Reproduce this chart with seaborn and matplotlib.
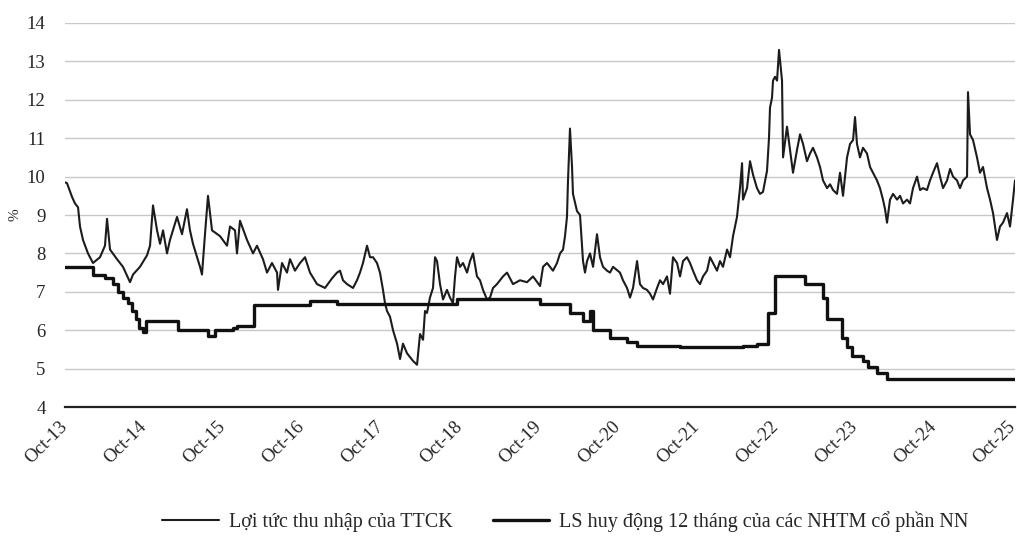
#!/usr/bin/env python3
"""Earnings yield of the stock market vs 12-month deposit rate, Oct-13 to Oct-25."""

import matplotlib
matplotlib.use("Agg")
import matplotlib.pyplot as plt
import numpy as np
import pandas as pd
import seaborn as sns

# Earnings yield of the market (thin line), x in decimal years
YIELD_T = [
    2013.750, 2013.775, 2013.839, 2013.877, 2013.915, 2013.940, 2013.978, 2014.041, 2014.104, 2014.193,
    2014.256, 2014.282, 2014.320, 2014.408, 2014.484, 2014.573, 2014.611, 2014.699, 2014.788, 2014.826,
    2014.864, 2014.915, 2014.953, 2014.991, 2015.041, 2015.079, 2015.168, 2015.231, 2015.294, 2015.332,
    2015.370, 2015.459, 2015.484, 2015.522, 2015.560, 2015.611, 2015.712, 2015.801, 2015.839, 2015.902,
    2015.927, 2015.965, 2016.054, 2016.130, 2016.180, 2016.256, 2016.307, 2016.370, 2016.434, 2016.446,
    2016.497, 2016.560, 2016.598, 2016.661, 2016.725, 2016.788, 2016.851, 2016.940, 2017.041, 2017.130,
    2017.193, 2017.231, 2017.269, 2017.320, 2017.396, 2017.446, 2017.484, 2017.522, 2017.573, 2017.611,
    2017.649, 2017.699, 2017.737, 2017.775, 2017.801, 2017.826, 2017.864, 2017.902, 2017.953, 2017.991,
    2018.028, 2018.079, 2018.117, 2018.155, 2018.206, 2018.244, 2018.282, 2018.307, 2018.332, 2018.370,
    2018.408, 2018.434, 2018.459, 2018.497, 2018.535, 2018.585, 2018.623, 2018.661, 2018.687, 2018.712,
    2018.750, 2018.788, 2018.839, 2018.877, 2018.915, 2018.965, 2019.003, 2019.041, 2019.092, 2019.130,
    2019.168, 2019.218, 2019.294, 2019.345, 2019.421, 2019.509, 2019.598, 2019.674, 2019.763, 2019.801,
    2019.851, 2019.927, 2019.978, 2020.016, 2020.054, 2020.079, 2020.104, 2020.117, 2020.142, 2020.168,
    2020.180, 2020.231, 2020.269, 2020.307, 2020.332, 2020.358, 2020.396, 2020.434, 2020.484, 2020.522,
    2020.560, 2020.611, 2020.649, 2020.687, 2020.775, 2020.813, 2020.864, 2020.902, 2020.940, 2020.991,
    2021.028, 2021.066, 2021.117, 2021.155, 2021.193, 2021.244, 2021.282, 2021.320, 2021.370, 2021.408,
    2021.446, 2021.497, 2021.535, 2021.573, 2021.623, 2021.661, 2021.699, 2021.750, 2021.788, 2021.826,
    2021.877, 2021.915, 2021.953, 2022.003, 2022.041, 2022.079, 2022.130, 2022.168, 2022.206, 2022.256,
    2022.294, 2022.320, 2022.332, 2022.383, 2022.421, 2022.459, 2022.509, 2022.547, 2022.585, 2022.636,
    2022.661, 2022.674, 2022.699, 2022.712, 2022.737, 2022.763, 2022.788, 2022.826, 2022.839, 2022.889,
    2022.927, 2022.965, 2023.016, 2023.054, 2023.092, 2023.142, 2023.180, 2023.218, 2023.269, 2023.307,
    2023.345, 2023.396, 2023.434, 2023.472, 2023.522, 2023.560, 2023.598, 2023.649, 2023.687, 2023.725,
    2023.750, 2023.775, 2023.813, 2023.851, 2023.902, 2023.940, 2023.978, 2024.028, 2024.066, 2024.104,
    2024.130, 2024.155, 2024.193, 2024.231, 2024.282, 2024.320, 2024.358, 2024.408, 2024.446, 2024.484,
    2024.535, 2024.573, 2024.611, 2024.661, 2024.699, 2024.737, 2024.788, 2024.826, 2024.864, 2024.915,
    2024.953, 2024.991, 2025.041, 2025.079, 2025.117, 2025.168, 2025.180, 2025.206, 2025.244, 2025.294,
    2025.332, 2025.370, 2025.421, 2025.459, 2025.497, 2025.547, 2025.585, 2025.623, 2025.674, 2025.712,
    2025.750, 2025.775,
]
YIELD_V = [
    9.85, 9.83, 9.47, 9.30, 9.20, 8.70, 8.35, 8.00, 7.75, 7.90,
    8.20, 8.90, 8.10, 7.85, 7.65, 7.25, 7.45, 7.65, 7.95, 8.20,
    9.25, 8.60, 8.25, 8.60, 8.00, 8.35, 8.95, 8.50, 9.15, 8.60,
    8.25, 7.65, 7.45, 8.50, 9.50, 8.60, 8.45, 8.20, 8.70, 8.60,
    8.00, 8.85, 8.35, 8.00, 8.20, 7.85, 7.50, 7.75, 7.50, 7.05,
    7.75, 7.50, 7.85, 7.55, 7.75, 7.90, 7.50, 7.20, 7.10, 7.35,
    7.50, 7.55, 7.30, 7.20, 7.10, 7.30, 7.50, 7.75, 8.20, 7.90,
    7.90, 7.75, 7.50, 7.05, 6.70, 6.50, 6.35, 6.00, 5.65, 5.25,
    5.65, 5.40, 5.30, 5.20, 5.10, 5.90, 5.75, 6.50, 6.45, 6.85,
    7.10, 7.90, 7.80, 7.20, 6.80, 7.05, 6.85, 6.70, 7.40, 7.90,
    7.65, 7.75, 7.50, 7.80, 8.00, 7.40, 7.30, 7.05, 6.80, 6.85,
    7.10, 7.20, 7.40, 7.50, 7.20, 7.30, 7.25, 7.40, 7.15, 7.65,
    7.75, 7.55, 7.75, 8.00, 8.10, 8.45, 8.95, 9.90, 11.25, 10.25,
    9.55, 9.10, 9.00, 7.80, 7.50, 7.80, 8.00, 7.65, 8.50, 7.90,
    7.65, 7.55, 7.50, 7.65, 7.50, 7.30, 7.10, 6.85, 7.10, 7.80,
    7.20, 7.10, 7.05, 6.95, 6.80, 7.10, 7.30, 7.20, 7.40, 6.95,
    7.90, 7.75, 7.40, 7.80, 7.90, 7.75, 7.55, 7.30, 7.20, 7.40,
    7.55, 7.90, 7.75, 7.55, 7.80, 7.65, 8.10, 7.90, 8.45, 8.95,
    9.70, 10.35, 9.40, 9.70, 10.40, 10.05, 9.70, 9.55, 9.60, 10.15,
    11.00, 11.80, 12.05, 12.50, 12.60, 12.50, 13.30, 12.50, 10.50, 11.30,
    10.70, 10.10, 10.70, 11.10, 10.85, 10.40, 10.60, 10.75, 10.50, 10.25,
    9.90, 9.70, 9.80, 9.65, 9.55, 10.10, 9.50, 10.50, 10.85, 10.95,
    11.55, 10.85, 10.50, 10.75, 10.60, 10.25, 10.10, 9.90, 9.70, 9.40,
    9.15, 8.80, 9.40, 9.55, 9.40, 9.50, 9.30, 9.40, 9.30, 9.70,
    10.00, 9.65, 9.70, 9.65, 9.90, 10.10, 10.35, 10.00, 9.70, 9.90,
    10.20, 10.00, 9.90, 9.70, 9.90, 10.00, 12.20, 11.10, 10.95, 10.50,
    10.10, 10.25, 9.70, 9.40, 9.05, 8.35, 8.70, 8.80, 9.05, 8.70,
    9.40, 9.90,
]

# 12-month deposit rate of state-owned commercial banks (thick step line)
DEPOSIT_T = [
    2013.750, 2014.104, 2014.256, 2014.358, 2014.421, 2014.484, 2014.547, 2014.598, 2014.649, 2014.687,
    2014.737, 2014.775, 2015.180, 2015.560, 2015.649, 2015.877, 2015.927, 2016.142, 2016.851, 2017.193,
    2018.712, 2019.763, 2020.142, 2020.307, 2020.396, 2020.434, 2020.649, 2020.864, 2020.991, 2021.535,
    2022.332, 2022.509, 2022.649, 2022.737, 2023.117, 2023.345, 2023.396, 2023.585, 2023.649, 2023.712,
    2023.851, 2023.915, 2024.028, 2024.155, 2025.775,
]
DEPOSIT_V = [
    7.65, 7.45, 7.35, 7.20, 7.00, 6.85, 6.70, 6.50, 6.30, 6.05,
    5.95, 6.25, 6.00, 5.85, 6.00, 6.05, 6.12, 6.65, 6.75, 6.68,
    6.82, 6.68, 6.45, 6.25, 6.50, 6.00, 5.80, 5.70, 5.58, 5.55,
    5.60, 5.65, 6.45, 7.40, 7.20, 6.85, 6.30, 5.80, 5.57, 5.33,
    5.20, 5.03, 4.88, 4.72, 4.72,
]

TICK_YEARS = list(range(13, 26))
YIELD_LABEL = "Lợi tức thu nhập của TTCK"
DEPOSIT_LABEL = "LS huy động 12 tháng của các NHTM cổ phần NN"


def main():
    sns.set_style("white")
    plt.rcParams["font.family"] = ["Liberation Serif", "DejaVu Serif"]

    yield_df = pd.DataFrame({"t": YIELD_T, "v": YIELD_V})
    deposit_df = pd.DataFrame({"t": DEPOSIT_T, "v": DEPOSIT_V})

    fig = plt.figure(figsize=(10.17, 5.44), dpi=100)
    ax = fig.add_axes([65 / 1017, 1 - 407 / 544, (1015 - 65) / 1017, (407 - 23) / 544])

    sns.lineplot(data=yield_df, x="t", y="v", ax=ax, color="#1c1c1c",
                 linewidth=1.5, sort=False, estimator=None, label=YIELD_LABEL)
    sns.lineplot(data=deposit_df, x="t", y="v", ax=ax, color="#111111",
                 linewidth=2.4, sort=False, estimator=None,
                 drawstyle="steps-post", label=DEPOSIT_LABEL)

    ax.set_ylim(4, 14)
    ax.set_xlim(2013.75, 2025.775)
    ax.set_yticks(np.arange(4, 15, 1))
    ticks = [2013.75 + (y - 13) for y in TICK_YEARS]
    ax.set_xticks(ticks)
    ax.set_xticklabels([f"Oct-{y}" for y in TICK_YEARS], rotation=45,
                       ha="right", va="center", rotation_mode="anchor", fontsize=13.5)
    ax.tick_params(axis="y", length=0, pad=14, labelsize=13.5)
    ax.tick_params(axis="x", length=6, width=1.2, color="#222222", pad=6, direction="out")
    ax.yaxis.grid(True, color="#c8c8c8", linewidth=1.0)
    ax.set_axisbelow(True)

    for side in ["left", "right", "top"]:
        ax.spines[side].set_visible(False)
    ax.spines["bottom"].set_color("#222222")
    ax.spines["bottom"].set_linewidth(1.6)

    ax.set_xlabel("")
    ax.set_ylabel("%", fontsize=11, labelpad=4)

    handles, labels = ax.get_legend_handles_labels()
    ax.get_legend().remove()
    fig.legend(handles, labels, loc="center", bbox_to_anchor=(0.556, 0.042),
               ncol=2, frameon=False, fontsize=14.5, handlelength=2.8,
               handletextpad=0.5, columnspacing=2.0)

    fig.savefig("out.png", dpi=100)
    plt.close(fig)


if __name__ == "__main__":
    main()
